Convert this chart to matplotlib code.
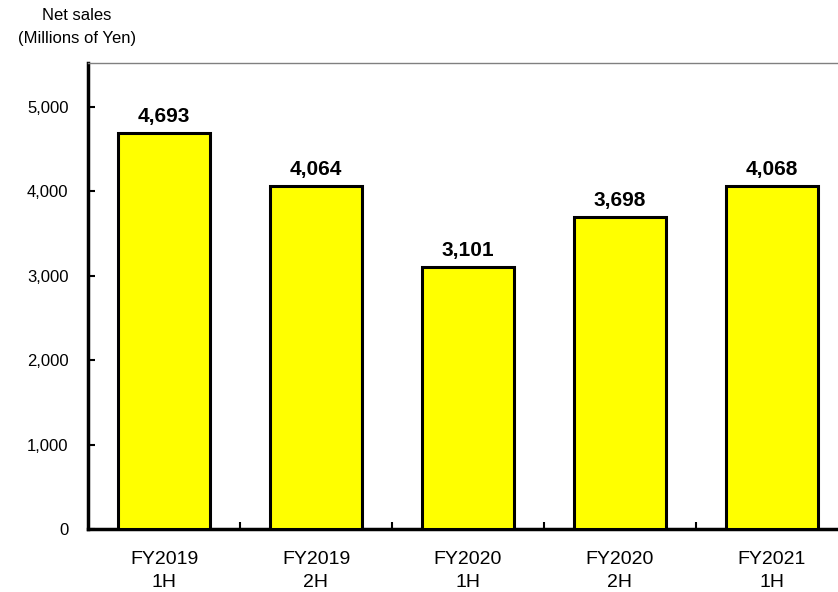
import matplotlib
matplotlib.use("Agg")
import matplotlib.pyplot as plt
import numpy as np

categories = ["FY2019\n1H", "FY2019\n2H", "FY2020\n1H", "FY2020\n2H", "FY2021\n1H"]
net_sales = [4693, 4064, 3101, 3698, 4068]
yticks = [0, 1000, 2000, 3000, 4000, 5000]

plt.rcParams['font.family'] = ['Liberation Sans', 'DejaVu Sans']

fig = plt.figure(figsize=(8.38, 5.92), dpi=100)
ax = fig.add_axes([88 / 838, 63 / 592, 760 / 838, 466 / 592])

x = np.arange(len(categories))
bars = ax.bar(x, net_sales, width=0.6, color='#ffff00', edgecolor='black', linewidth=2.2, zorder=3)

for xi, v in zip(x, net_sales):
    ax.text(xi, v + 80, f"{v:,}", ha='center', va='bottom', fontsize=15, fontweight='bold')

ax.set_xlim(-0.5, len(categories) - 0.5)
ax.set_ylim(0, 5520)
ax.set_yticks(yticks)
ax.set_yticklabels([f"{t:,}" for t in yticks], fontsize=12)
ax.tick_params(axis='y', direction='in', length=5, width=1.5, pad=14)

# category labels centred, tick marks at category boundaries
ax.set_xticks(x)
ax.set_xticklabels(categories, fontsize=14, linespacing=1.45)
ax.tick_params(axis='x', which='major', length=0, pad=16)
ax.set_xticks(np.arange(0.5, len(categories) - 0.5), minor=True)
ax.tick_params(axis='x', which='minor', direction='in', length=5, width=1.5)

ax.spines['left'].set_linewidth(2.5)
ax.spines['bottom'].set_linewidth(2.5)
ax.spines['top'].set_linewidth(1)
ax.spines['top'].set_color('#808080')
ax.spines['right'].set_visible(False)

fig.text(77 / 838, 1 - 15 / 592, "Net sales", ha='center', va='center', fontsize=12)
fig.text(77 / 838, 1 - 39 / 592, "(Millions of Yen)", ha='center', va='center', fontsize=12)

fig.savefig("out.png", dpi=100)
